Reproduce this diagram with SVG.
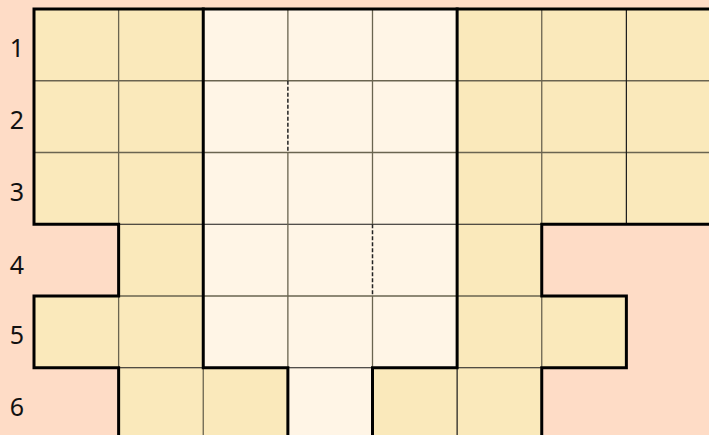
<svg xmlns="http://www.w3.org/2000/svg" width="709" height="435" viewBox="0 0 709 435">
<style>
.y{fill:#fae9bb}
.l{fill:#fff5e6}
.g{stroke:#6a6450;stroke-width:1.3;fill:none}
.k{stroke:#1a1a1a;stroke-width:1.2;fill:none}
.d{stroke:#222;stroke-width:1.5;stroke-dasharray:4 2;fill:none}
.t{stroke:#000;stroke-width:3;fill:none;stroke-linecap:square;stroke-linejoin:miter}
.lab{font-family:"Noto Sans","Open Sans",sans-serif;font-size:25px;fill:#111;text-anchor:middle}
</style>
<rect width="709" height="435" fill="#fedcc6"/>
<g id="cells">
<g id="row1">
<rect class="y" x="34" y="9" width="169.25" height="71.75"/>
<rect class="l" x="203.25" y="9" width="253.875" height="71.75"/>
<rect class="y" x="457.125" y="9" width="253.875" height="71.75"/>
</g>
<g id="row2">
<rect class="y" x="34" y="80.75" width="169.25" height="71.75"/>
<rect class="l" x="203.25" y="80.75" width="253.875" height="71.75"/>
<rect class="y" x="457.125" y="80.75" width="253.875" height="71.75"/>
</g>
<g id="row3">
<rect class="y" x="34" y="152.5" width="169.25" height="71.75"/>
<rect class="l" x="203.25" y="152.5" width="253.875" height="71.75"/>
<rect class="y" x="457.125" y="152.5" width="253.875" height="71.75"/>
</g>
<g id="row4">
<rect class="y" x="118.625" y="224.25" width="84.625" height="71.75"/>
<rect class="l" x="203.25" y="224.25" width="253.875" height="71.75"/>
<rect class="y" x="457.125" y="224.25" width="84.625" height="71.75"/>
</g>
<g id="row5">
<rect class="y" x="34" y="296" width="169.25" height="71.75"/>
<rect class="l" x="203.25" y="296" width="253.875" height="71.75"/>
<rect class="y" x="457.125" y="296" width="169.25" height="71.75"/>
</g>
<g id="row6">
<rect class="y" x="118.625" y="367.75" width="169.25" height="71.75"/>
<rect class="l" x="287.875" y="367.75" width="84.625" height="71.75"/>
<rect class="y" x="372.5" y="367.75" width="169.25" height="71.75"/>
</g>
</g>
<g id="connectors">
<g id="thin">
<path class="g" d="M34 80.75H711M34 152.5H711M118.625 296H541.75"/>
<path class="k" d="M118.625 224.25H541.75M118.625 367.75H203.25M287.875 367.75H372.5M457.125 367.75H541.75"/>
<path class="g" d="M118.625 9V224.25M118.625 296V367.75M287.875 9V80.75M287.875 152.5V224.25M287.875 224.25V367.75M372.5 9V224.25M372.5 296V367.75M541.75 9V224.25M541.75 296V367.75M203.25 367.75V439.5"/>
<path class="k" d="M626.375 9V224.25M457.125 367.75V439.5"/>
<path class="d" d="M287.875 80.75V152.5M372.5 224.25V296"/>
</g>
<g id="thick">
<path class="t" d="M711 9H34V224.25H118.625V296H34V367.75H118.625V439.5"/>
<path class="t" d="M711 224.25H541.75V296H626.375V367.75H541.75V439.5"/>
<path class="t" d="M203.25 9V367.75H287.875V439.5"/>
<path class="t" d="M457.125 9V367.75H372.5V439.5"/>
</g>
</g>
<g id="labels">
<text class="lab" x="17" y="57">1</text>
<text class="lab" x="17" y="129">2</text>
<text class="lab" x="17" y="201">3</text>
<text class="lab" x="17" y="274">4</text>
<text class="lab" x="17" y="344">5</text>
<text class="lab" x="17" y="416">6</text>
</g>
</svg>
